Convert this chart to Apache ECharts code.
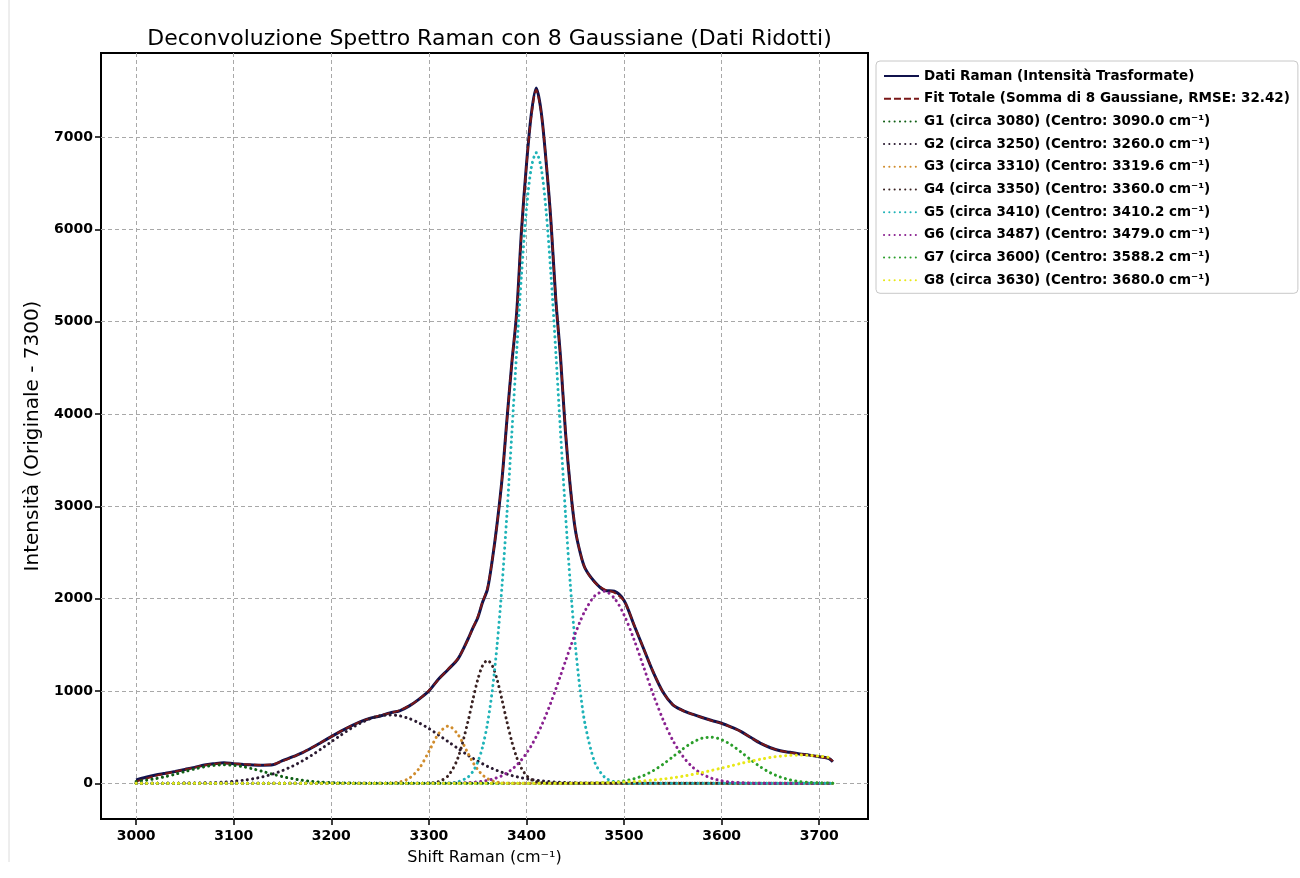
<!DOCTYPE html>
<html>
<head>
<meta charset="utf-8">
<script src="https://cdn.jsdelivr.net/npm/echarts@6/dist/echarts.min.js"></script>
<style>
html,body{margin:0;padding:0;background:#fff;}
#c{width:1300px;height:878px;}
</style>
</head>
<body>
<div id="c"></div>
<script>
// Raman shift grid (cm^-1)
const shift = [
  3000,3010,3020,3030,3040,3050,3060,3070,3080,3090,3100,3110,3120,3130,3140,3150,3160,3170,3180,3190,
  3200,3210,3220,3230,3240,3250,3260,3270,3280,3290,3300,3310,3320,3330,3340,
  3345,3350,3355,3360,3365,3370,3375,3380,3385,3390,3395,3400,3405,3410,3415,3420,3425,3430,3435,3440,3445,3450,3455,3460,
  3470,3480,3490,3500,3510,3520,3530,3540,3550,3560,3570,3580,3590,3600,3610,3620,3630,3640,3650,3660,3670,3680,3690,3700,3710,3714
];
const ramanData = [
  35,65,90,108,128,150,172,198,212,222,212,204,198,196,200,245,285,330,385,445,
  505,565,620,668,705,728,762,785,838,912,1000,1130,1235,1350,1560,
  1680,1790,1960,2100,2420,2820,3300,3940,4550,5100,6000,6700,7250,7530,7280,6750,6100,5250,4600,3800,3200,2750,2500,2330,
  2180,2090,2080,1980,1720,1460,1200,985,850,790,748,712,680,650,608,560,495,432,385,352,335,318,305,288,268,234
];
const fitTotal = [
  20,50,80,104,126,150,172,195,210,218,214,206,200,198,205,240,282,330,385,445,
  505,565,620,668,705,735,760,790,840,912,1005,1125,1240,1355,1555,
  1680,1800,1965,2110,2420,2810,3300,3930,4560,5100,5990,6690,7230,7510,7270,6760,6110,5260,4600,3820,3210,2760,2500,2330,
  2175,2100,2065,1975,1725,1460,1205,985,852,788,748,712,678,648,606,558,495,434,386,352,334,318,304,287,268,240
];
const g1 = [
  20,33,50,72,98,127,155,179,194,200,194,179,155,127,98,72,50,33,20,12,
  6,3,2,1,0,0,0,0,0,0,0,0,0,0,0,
  0,0,0,0,0,0,0,0,0,0,0,0,0,0,0,0,0,0,0,0,0,0,0,0,
  0,0,0,0,0,0,0,0,0,0,0,0,0,0,0,0,0,0,0,0,0,0,0,0,0,0
];
const g2 = [
  0,0,0,0,1,2,3,5,8,13,21,33,49,71,100,138,184,240,304,375,
  449,523,593,653,700,730,740,730,700,653,593,523,449,375,304,
  271,240,211,184,160,138,118,100,84,71,59,49,40,33,26,21,17,13,11,8,6,5,4,3,
  2,1,0,0,0,0,0,0,0,0,0,0,0,0,0,0,0,0,0,0,0,0,0,0,0,0
];
const g3 = [
  0,0,0,0,0,0,0,0,0,0,0,0,0,0,0,0,0,0,0,0,
  0,0,0,0,0,0,3,14,55,160,343,538,620,525,326,
  229,149,90,50,26,12,5,2,1,0,0,0,0,0,0,0,0,0,0,0,0,0,0,0,
  0,0,0,0,0,0,0,0,0,0,0,0,0,0,0,0,0,0,0,0,0,0,0,0,0,0
];
const g4 = [
  0,0,0,0,0,0,0,0,0,0,0,0,0,0,0,0,0,0,0,0,
  0,0,0,0,0,0,0,0,0,0,3,18,84,280,666,
  901,1119,1274,1330,1274,1119,901,666,451,280,160,84,40,18,7,3,1,0,0,0,0,0,0,0,
  0,0,0,0,0,0,0,0,0,0,0,0,0,0,0,0,0,0,0,0,0,0,0,0,0,0
];
const g5 = [
  0,0,0,0,0,0,0,0,0,0,0,0,0,0,0,0,0,0,0,0,
  0,0,0,0,0,0,0,0,0,0,0,0,3,16,67,
  126,227,392,643,1007,1505,2145,2917,3783,4680,5521,6214,6670,6830,6670,6214,5521,4680,3783,2917,2145,1505,1007,643,
  227,67,16,3,0,0,0,0,0,0,0,0,0,0,0,0,0,0,0,0,0,0,0,0,0,0
];
const g6 = [
  0,0,0,0,0,0,0,0,0,0,0,0,0,0,0,0,0,0,0,0,
  0,0,0,0,0,0,0,0,0,0,0,0,1,3,7,
  10,15,21,31,44,61,83,113,150,197,255,325,408,505,615,739,874,1018,1169,1323,1475,1620,1753,1868,
  2030,2079,2006,1824,1563,1262,960,688,464,296,177,100,53,27,13,6,2,1,0,0,0,0,0,0,0,0
];
const g7 = [
  0,0,0,0,0,0,0,0,0,0,0,0,0,0,0,0,0,0,0,0,
  0,0,0,0,0,0,0,0,0,0,0,0,0,0,0,
  0,0,0,0,0,0,0,0,0,0,0,0,0,0,0,0,0,0,0,0,0,0,0,1,
  2,6,12,25,48,84,137,206,287,370,441,488,499,472,415,337,253,176,113,68,37,19,9,4,2,1
];
const g8 = [
  0,0,0,0,0,0,0,0,0,0,0,0,0,0,0,0,0,0,0,0,
  0,0,0,0,0,0,0,0,0,0,0,0,0,0,0,
  0,0,0,0,0,0,0,0,0,0,0,0,0,0,0,0,0,0,0,1,1,2,2,3,
  4,6,9,13,19,26,35,46,60,76,95,116,140,165,190,216,240,261,280,293,302,305,302,293,280,273
];
const seriesNames = [
  'Dati Raman (Intensità Trasformate)',
  'Fit Totale (Somma di 8 Gaussiane, RMSE: 32.42)',
  'G1 (circa 3080) (Centro: 3090.0 cm⁻¹)',
  'G2 (circa 3250) (Centro: 3260.0 cm⁻¹)',
  'G3 (circa 3310) (Centro: 3319.6 cm⁻¹)',
  'G4 (circa 3350) (Centro: 3360.0 cm⁻¹)',
  'G5 (circa 3410) (Centro: 3410.2 cm⁻¹)',
  'G6 (circa 3487) (Centro: 3479.0 cm⁻¹)',
  'G7 (circa 3600) (Centro: 3588.2 cm⁻¹)',
  'G8 (circa 3630) (Centro: 3680.0 cm⁻¹)'
];
const xTicks = [3000,3100,3200,3300,3400,3500,3600,3700];
const yTicks = [0,1000,2000,3000,4000,5000,6000,7000];
const xRange = [2964, 3750];
const yRange = [-387, 7910];

const gaussians = [g1,g2,g3,g4,g5,g6,g7,g8];
const gColors = ['#0f5f14','#2a1a30','#d08c2c','#3a2222','#1fb3b8','#8a2290','#2a9e2a','#e8e818'];

const F = 'DejaVu Sans';
function pairs(arr){ return shift.map((x,i)=>[x, arr[i]]); }
const plain = v => String(v);

const series = [
  { name: seriesNames[0], type:'line', data: pairs(ramanData), symbol:'none', smooth:0.3,
    color:'#10124c', lineStyle:{color:'#10124c', width:3}, z:2, silent:true },
  { name: seriesNames[1], type:'line', data: pairs(fitTotal), symbol:'none', smooth:0.3,
    color:'#7a1818', lineStyle:{color:'#7a1818', width:2, type:[7,3]}, z:3, silent:true }
];
gaussians.forEach((g,i)=>{
  series.push({ name: seriesNames[i+2], type:'line', data: pairs(g), symbol:'none', smooth:0.3,
    color:gColors[i], lineStyle:{color:gColors[i], width:3, type:[0.1,5.2], cap:'round'}, z:4+i, silent:true });
});

const chart = echarts.init(document.getElementById('c'), null, {renderer:'canvas'});
chart.setOption({
  animation:false,
  backgroundColor:'#fff',
  title:{
    text:'Deconvoluzione Spettro Raman con 8 Gaussiane (Dati Ridotti)',
    left:484.5, top:23, textAlign:'center',
    textStyle:{fontFamily:F, fontSize:22, fontWeight:'normal', color:'#000'}
  },
  graphic:[{type:'line', shape:{x1:9,y1:0,x2:9,y2:862}, style:{stroke:'#dcdcdc', lineWidth:1}}],
  legend:{
    orient:'vertical', left:876, top:61,
    itemWidth:35, itemHeight:12, itemGap:8.7,
    padding:[8,8,6,7],
    backgroundColor:'rgba(255,255,255,0.85)', borderColor:'#c8c8c8', borderWidth:1, borderRadius:4,
    textStyle:{fontFamily:F, fontSize:13.5, fontWeight:'bold', color:'#000', lineHeight:14},
    itemStyle:{opacity:0},
    data: seriesNames
  },
  grid:{left:101, top:53, width:767, height:766, show:true, borderColor:'#000', borderWidth:2, backgroundColor:'transparent'},
  xAxis:{
    type:'value', min:xRange[0], max:xRange[1],
    name:'Shift Raman (cm⁻¹)', nameLocation:'middle', nameGap:31,
    nameTextStyle:{fontFamily:F, fontSize:16, color:'#000'},
    axisLine:{show:false, onZero:false},
    axisTick:{show:true, inside:false, length:6, customValues:xTicks, lineStyle:{color:'#000', width:1.5}},
    axisLabel:{customValues:xTicks, formatter:plain, margin:10, fontFamily:F, fontSize:14, fontWeight:'bold', color:'#000'},
    splitLine:{show:true, lineStyle:{color:'#a8a8a8', width:1, type:[4,3]}}
  },
  yAxis:{
    type:'value', min:yRange[0], max:yRange[1],
    name:'Intensità (Originale - 7300)', nameLocation:'middle', nameGap:54,
    nameTextStyle:{fontFamily:F, fontSize:20, color:'#000'},
    axisLine:{show:false, onZero:false},
    axisTick:{show:true, inside:false, length:6, customValues:yTicks, lineStyle:{color:'#000', width:1.5}},
    axisLabel:{customValues:yTicks, formatter:plain, margin:8, fontFamily:F, fontSize:14, fontWeight:'bold', color:'#000'},
    splitLine:{show:true, lineStyle:{color:'#a8a8a8', width:1, type:[4,3]}}
  },
  series: series
});
</script>
</body>
</html>
